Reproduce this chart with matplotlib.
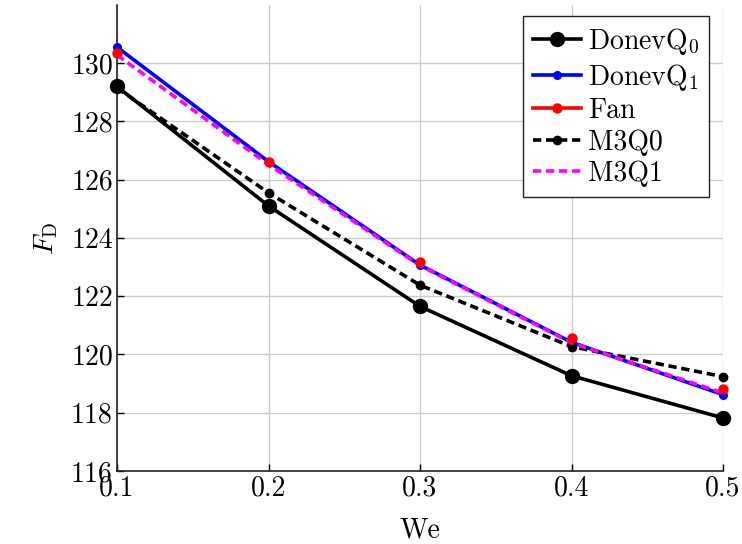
import matplotlib
matplotlib.use("Agg")
import matplotlib.pyplot as plt
from matplotlib.lines import Line2D

plt.rcParams['font.family'] = 'serif'
plt.rcParams['font.serif'] = ['cmr10']
plt.rcParams['mathtext.fontset'] = 'cm'
plt.rcParams['axes.formatter.use_mathtext'] = True
plt.rcParams['axes.unicode_minus'] = False

we = [0.1, 0.2, 0.3, 0.4, 0.5]
donev_q0 = [129.2, 125.1, 121.65, 119.27, 117.82]
donev_q1 = [130.55, 126.62, 123.07, 120.42, 118.62]
fan = [130.35, 126.6, 123.17, 120.58, 118.82]
m3q0 = [129.15, 125.55, 122.38, 120.27, 119.24]
m3q1 = [130.28, 126.52, 123.05, 120.4, 118.68]

xticks = [0.1, 0.2, 0.3, 0.4, 0.5]
yticks = [116, 118, 120, 122, 124, 126, 128, 130]
labels = [r'Donev$\mathrm{Q}_0$', r'Donev$\mathrm{Q}_1$', 'Fan', 'M3Q0', 'M3Q1']

fig = plt.figure(figsize=(7.42, 5.44), dpi=100)
ax = fig.add_axes([0.1577, 0.1342, 0.8167, 0.8568])

lw = 2.6
dash = (0, (2.3, 1.3))
fs = 20
st_q0 = dict(color='black', lw=lw, marker='o', ms=10)
st_q1 = dict(color='blue', lw=lw, marker='o', ms=5.5)
st_fan = dict(color='red', lw=lw, marker='o', ms=6.5)
st_m0 = dict(color='black', lw=lw, marker='o', ms=6, linestyle=dash)
st_m1 = dict(color='magenta', lw=lw, linestyle=dash)

ax.plot(we, donev_q0, zorder=3, clip_on=False, **st_q0)
ax.plot(we, donev_q1, zorder=3, clip_on=False, **st_q1)
ax.plot(we, fan, zorder=4, linestyle='none', color='red', marker='o', ms=6.5, clip_on=False)
ax.plot(we, m3q0, zorder=3, clip_on=False, **st_m0)
ax.plot(we, m3q1, zorder=3, clip_on=False, **st_m1)

ax.set_xlim(0.1, 0.5)
ax.set_ylim(116, 132)
ax.set_xticks(xticks)
ax.set_yticks(yticks)
ax.set_xticklabels([f'{v:.1f}' for v in xticks])
ax.set_yticklabels([str(v) for v in yticks])
ax.tick_params(direction='in', length=5, width=1, labelsize=fs, pad=3)
ax.grid(True, color='#cccccc', lw=1)
ax.set_axisbelow(True)
for s in ['top', 'right']:
    ax.spines[s].set_visible(False)
for s in ['left', 'bottom']:
    ax.spines[s].set_color('#222222')
    ax.spines[s].set_linewidth(1.2)

ax.set_xlabel('We', fontsize=fs, labelpad=11)
ax.set_ylabel(r'$F_{\mathrm{D}}$', fontsize=fs, labelpad=8)

handles = [Line2D([], [], **st_q0), Line2D([], [], **st_q1), Line2D([], [], **st_fan),
           Line2D([], [], **st_m0), Line2D([], [], **st_m1)]
leg = ax.legend(handles, labels, loc='upper right', bbox_to_anchor=(0.977, 0.976),
                fontsize=fs, frameon=True, fancybox=False, edgecolor='#222222',
                framealpha=1, handlelength=1.75, handletextpad=0.25,
                labelspacing=0.18, borderpad=0.35, borderaxespad=0)
leg.get_frame().set_linewidth(1.0)

fig.savefig('out.png', dpi=100)
